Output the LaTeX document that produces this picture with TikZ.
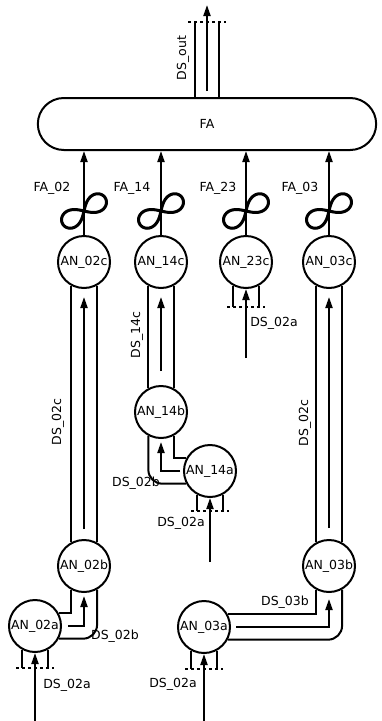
\documentclass[tikz,border=0pt]{standalone}
\usepackage{fontspec}
\setmainfont{DejaVu Sans}
\usetikzlibrary{shapes.misc,arrows.meta,positioning,calc}

\tikzset{
  wall/.style={line width=2pt},
  flow/.style={line width=2pt, -{Triangle[length=11pt,width=7pt]}},
  inlet/.style={line width=2pt, dash pattern=on 3pt off 3pt},
  an/.style={draw, circle, line width=2pt, minimum size=52pt, inner sep=0pt},
  lbl/.style={inner sep=0pt},
  coil/.pic={\draw[line width=3pt, rotate=32] plot[domain=0:360, samples=73, smooth]
    ({25*cos(\x)/(1+(sin(\x))^2)}, {25*sin(\x)*cos(\x)/(1+(sin(\x))^2)});}
}

\begin{document}
\begin{tikzpicture}[x=1pt, y=-1pt, every node/.style={font=\fontsize{12.5}{14}\selectfont}]

    \useasboundingbox (0,0) rectangle (381,721);

    % 1. Collector FA and its outlet
    \node[draw, rounded rectangle, line width=2pt, minimum width=345pt, minimum height=52pt] (FA) at (207,124) {FA};
    \coordinate (out) at (207,22);
    \coordinate (outtip) at (207,5);
    \draw[wall] ([xshift=-12pt]FA.north) -- ([xshift=-12pt]out);
    \draw[wall] ([xshift=12pt]FA.north) -- ([xshift=12pt]out);
    \draw[inlet] ([xshift=-19pt]out) -- ([xshift=19pt]out);
    \draw[flow] ([yshift=6pt]FA.north) -- (outtip);
    \node[lbl, rotate=90] (lDSout) at (183,58) {DS\_out};

    % 2. Nodes
    \node[an] (AN02c) at (84,262) {AN\_02c};
    \node[an] (AN14c) at (161,262) {AN\_14c};
    \node[an] (AN23c) at (246,262) {AN\_23c};
    \node[an] (AN03c) at (329,262) {AN\_03c};
    \node[an] (AN14b) at (161,412) {AN\_14b};
    \node[an] (AN14a) at (210,471) {AN\_14a};
    \node[an] (AN02b) at (84,566) {AN\_02b};
    \node[an] (AN02a) at (35,626) {AN\_02a};
    \node[an] (AN03b) at (329,566) {AN\_03b};
    \node[an] (AN03a) at (204,627) {AN\_03a};

    % 3. Feeds into FA with coils
    \foreach \n in {AN02c,AN14c,AN23c,AN03c} {
        \draw[flow] (\n.north) -- (\n.north |- FA.south);
        \pic at ([yshift=24pt]\n.north) {coil};
    }
    \node[lbl] (lFA02) at (52,188) {FA\_02};
    \node[lbl] (lFA14) at (132,188) {FA\_14};
    \node[lbl] (lFA23) at (218,188) {FA\_23};
    \node[lbl] (lFA03) at (300,188) {FA\_03};

    % 4. Straight channels
    \foreach \lo/\hi/\gap in {AN02b/AN02c/10, AN14b/AN14c/14, AN03b/AN03c/11} {
        \draw[wall] (\lo.118.7) -- (\hi.-118.7);
        \draw[wall] (\lo.61.3) -- (\hi.-61.3);
        \draw[flow, shorten <=\gap pt, shorten >=8pt] (\lo.north) -- (\hi.south);
    }
    \node[lbl, rotate=90] (lDS02c) at (58,422) {DS\_02c};
    \node[lbl, rotate=90] (lDS14c) at (137,335) {DS\_14c};
    \node[lbl, rotate=90] (lDS03c) at (305,423) {DS\_02c};

    % 5. Bent channels
    \draw[wall] (AN02a.28) -| (AN02b.-118.7);
    \draw[wall, rounded corners=14pt] (AN02a.-28) -| (AN02b.-61.3);
    \draw[flow] ([xshift=6pt]AN02a.east) -| ([yshift=-3pt]AN02b.south);
    \node[lbl] (lDS02b) at (115,636) {DS\_02b};

    \draw[wall] (AN14a.152) -| (AN14b.-61.3);
    \draw[wall, rounded corners=14pt] (AN14a.208) -| (AN14b.-118.7);
    \draw[flow] ([xshift=-3pt]AN14a.west) -| ([yshift=-3pt]AN14b.south);
    \node[lbl] (lDS14b) at (136,483) {DS\_02b};

    \draw[wall] (AN03a.28) -| (AN03b.-118.7);
    \draw[wall, rounded corners=14pt] (AN03a.-28) -| (AN03b.-61.3);
    \draw[flow] ([xshift=5pt]AN03a.east) -| ([yshift=-6pt]AN03b.south);
    \node[lbl] (lDS03b) at (285,602) {DS\_03b};

    % 6. Inlets
    \coordinate (src02a) at (35,721);
    \coordinate (src03a) at (204,721);
    \coordinate (src14a) at (210,562);
    \coordinate (src23c) at (246,358);
    \foreach \n/\d/\s in {AN02a/15/src02a, AN03a/15/src03a, AN14a/13/src14a, AN23c/18/src23c} {
        \coordinate (\n-in) at ([yshift=-\d pt]\n.south);
        \draw[wall] (\n.-118.7) -- (\n.-118.7 |- \n-in);
        \draw[wall] (\n.-61.3) -- (\n.-61.3 |- \n-in);
        \draw[inlet] ([xshift=-19pt]\n-in) -- ([xshift=19pt]\n-in);
        \draw[flow] (\s) -- (\n.south);
    }
    \node[lbl] (lDS02a) at (67,685) {DS\_02a};
    \node[lbl] (lDS03a) at (173,684) {DS\_02a};
    \node[lbl] (lDS14a) at (181,523) {DS\_02a};
    \node[lbl] (lDS23c) at (274,323) {DS\_02a};

\end{tikzpicture}
\end{document}
